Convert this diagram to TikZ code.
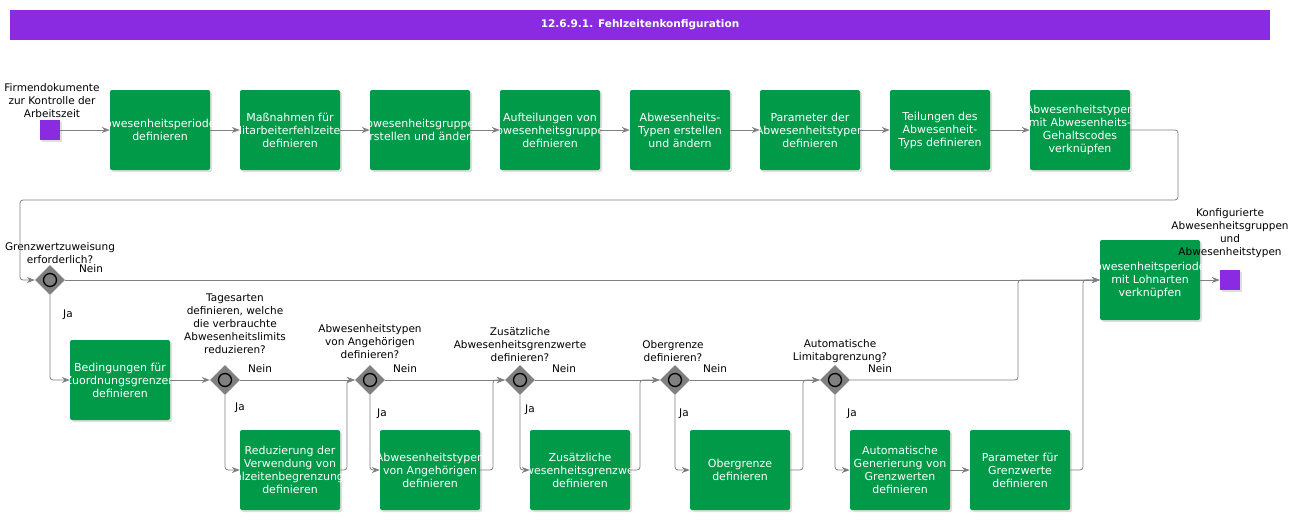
\documentclass[tikz,border=0pt]{standalone}
\usepackage{fontspec}
\setmainfont{DejaVu Sans}
\usetikzlibrary{arrows.meta,shapes.geometric,shadows}
\definecolor{taskgreen}{HTML}{009A49}
\definecolor{evpurple}{HTML}{8A2BE2}
\definecolor{flowgray}{HTML}{808080}
\tikzset{
  task/.style={rectangle,rounded corners=2pt,fill=taskgreen,minimum width=100pt,minimum height=80pt,inner sep=0pt,drop shadow={opacity=0.25,shadow xshift=2pt,shadow yshift=-2pt}},
  tasktxt/.style={text=white,align=center,inner sep=0pt,font=\fontsize{11}{13}\selectfont},
  event/.style={rectangle,fill=evpurple,minimum size=20pt,inner sep=0pt,drop shadow={opacity=0.25,shadow xshift=2pt,shadow yshift=-2pt}},
  gate/.style={diamond,fill=flowgray,minimum size=30pt,inner sep=0pt},
  lbl/.style={align=center,font=\fontsize{10.5}{13}\selectfont,inner sep=0pt},
  flow/.style={draw=flowgray,line width=0.8pt,rounded corners=3pt,-{Stealth[length=8pt,width=6pt]}},
}
\newcommand{\gateway}[2]{\node[gate] (#1) at #2 {};
  \draw[line width=1.3pt,fill=flowgray] (#1.center) circle (6.5pt);}
\newcommand{\tk}[3]{\node[task] (#1) at #2 {};
  \node[tasktxt] at (#1) {#3};}
\begin{document}
\begin{tikzpicture}[x=1pt,y=-1pt]
\useasboundingbox (0,0) rectangle (1305,520);
% title
\node[fill=evpurple,minimum width=1260pt,minimum height=30pt,inner sep=0pt,text=white,font=\bfseries\fontsize{10.5}{12}\selectfont] (title) at (640,25) {12.6.9.1. Fehlzeitenkonfiguration};
% start
\node[event] (start) at (50,130) {};
\node[lbl,anchor=south] at (52,118) {Firmendokumente\\zur Kontrolle der\\Arbeitszeit};
% top row
\tk{t1}{(160,130)}{Abwesenheitsperioden\\definieren}
\tk{t2}{(290,130)}{Maßnahmen für\\Mitarbeiterfehlzeiten\\definieren}
\tk{t3}{(420,130)}{Abwesenheitsgruppen\\erstellen und ändern}
\tk{t4}{(550,130)}{Aufteilungen von\\Abwesenheitsgruppen\\definieren}
\tk{t5}{(680,130)}{Abwesenheits-\\Typen erstellen\\und ändern}
\tk{t6}{(810,130)}{Parameter der\\Abwesenheitstypen\\definieren}
\tk{t7}{(940,130)}{Teilungen des\\Abwesenheit-\\Typs definieren}
\tk{t8}{(1080,130)}{Abwesenheitstypen\\mit Abwesenheits-\\Gehaltscodes\\verknüpfen}
\draw[flow] (start) -- (t1);
\draw[flow] (t1) -- (t2);
\draw[flow] (t2) -- (t3);
\draw[flow] (t3) -- (t4);
\draw[flow] (t4) -- (t5);
\draw[flow] (t5) -- (t6);
\draw[flow] (t6) -- (t7);
\draw[flow] (t7) -- (t8);
% first decision
\gateway{g1}{(50,280)}
\node[lbl,anchor=south] at (60,264) {Grenzwertzuweisung\\erforderlich?};
\node[lbl] at (91,269) {Nein};
\node[lbl] at (68,315) {Ja};
\draw[flow] (t8.east) -| (1178,200) -| (20,280) -- (g1.west);
% end
\tk{fin}{(1150,280)}{Abwesenheitsperioden\\mit Lohnarten\\verknüpfen}
\node[event] (end) at (1230,280) {};
\node[lbl,anchor=south] at (1230,258) {Konfigurierte\\Abwesenheitsgruppen\\und\\Abwesenheitstypen};
\draw[flow] (g1.east) -- (fin.west);
\draw[flow] (fin) -- (end);
% second row
\tk{b1}{(120,380)}{Bedingungen für\\Zuordnungsgrenzen\\definieren}
\draw[flow] (g1.south) |- (b1.west);
\gateway{g2}{(225,380)}
\gateway{g3}{(370,380)}
\gateway{g4}{(520,380)}
\gateway{g5}{(675,380)}
\gateway{g6}{(835,380)}
\node[lbl,anchor=south] at (235,354) {Tagesarten\\definieren, welche\\die verbrauchte\\Abwesenheitslimits\\reduzieren?};
\node[lbl,anchor=south] at (370,359) {Abwesenheitstypen\\von Angehörigen\\definieren?};
\node[lbl,anchor=south] at (520,362) {Zusätzliche\\Abwesenheitsgrenzwerte\\definieren?};
\node[lbl,anchor=south] at (673,362) {Obergrenze\\definieren?};
\node[lbl,anchor=south] at (840,363) {Automatische\\Limitabgrenzung?};
\node[lbl] at (260,369) {Nein};
\node[lbl] at (405,369) {Nein};
\node[lbl] at (564,369) {Nein};
\node[lbl] at (715,369) {Nein};
\node[lbl] at (880,369) {Nein};
\node[lbl] at (240,408) {Ja};
\node[lbl] at (382,414) {Ja};
\node[lbl] at (530,410) {Ja};
\node[lbl] at (684,414) {Ja};
\node[lbl] at (852,414) {Ja};
\tk{r1}{(290,470)}{Reduzierung der\\Verwendung von\\Fehlzeitenbegrenzungen\\definieren}
\tk{r2}{(430,470)}{Abwesenheitstypen\\von Angehörigen\\definieren}
\tk{r3}{(580,470)}{Zusätzliche\\Abwesenheitsgrenzwerte\\definieren}
\tk{r4}{(740,470)}{Obergrenze\\definieren}
\tk{r5}{(900,470)}{Automatische\\Generierung von\\Grenzwerten\\definieren}
\tk{r6}{(1020,470)}{Parameter für\\Grenzwerte\\definieren}
\draw[flow] (b1) -- (g2);
\draw[flow] (g2.east) -- (g3.west);
\draw[flow] (g3.east) -- (g4.west);
\draw[flow] (g4.east) -- (g5.west);
\draw[flow] (g2.south) |- (r1.west);
\draw[flow] (g3.south) |- (r2.west);
\draw[flow] (g4.south) |- (r3.west);
\draw[flow] (g5.south) |- (r4.west);
\draw[flow] (g6.south) |- (r5.west);
\draw[flow] (r1.east) -| (347,380) -- (g3.west);
\draw[flow] (r2.east) -| (493,380) -- (g4.west);
\draw[flow] (r3.east) -| (640,380) -- (g5.west);
\draw[flow] (r4.east) -| (803,380) -- (g6.west);
\draw[flow] (g5.east) -- (g6.west);
\draw[flow] (r5) -- (r6);
\draw[flow] (g6.east) -| (1018,280) -- (fin.west);
\draw[flow] (r6.east) -| (1083,280) -- (fin.west);
\end{tikzpicture}
\end{document}
